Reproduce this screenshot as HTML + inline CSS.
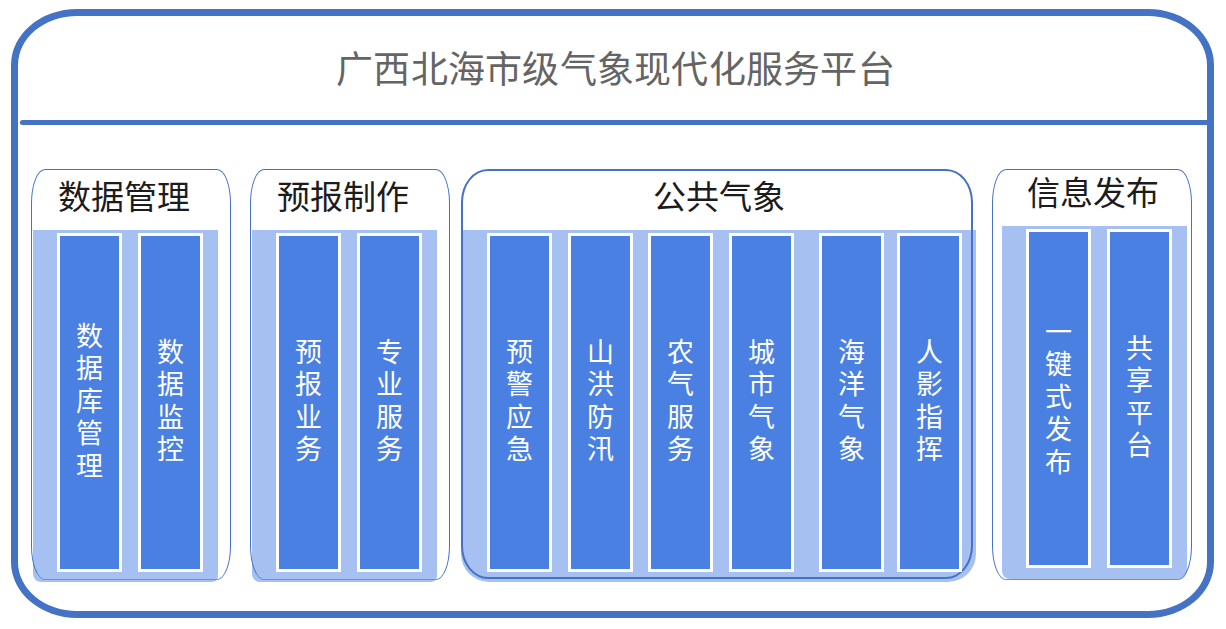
<!DOCTYPE html>
<html lang="zh-CN">
<head>
<meta charset="utf-8">
<style>
html,body{margin:0;padding:0;background:#fff;width:1226px;height:629px;overflow:hidden;position:relative;}
body{font-family:"Liberation Serif",serif;}
.a{position:absolute;box-sizing:border-box;}
#frame{left:11px;top:8.5px;width:1203px;height:609.3px;border:7px solid #4472C4;border-radius:66px/56px;}
#hline{left:20px;top:119.5px;width:1190px;height:5.5px;background:#4472C4;border-radius:3px 0 0 3px;}
#title{left:336px;top:49px;font-family:"Liberation Sans",sans-serif;font-size:37px;letter-spacing:0.25px;line-height:44px;font-weight:300;color:#646464;white-space:nowrap;}
.band{background:#A6C1F1;}
.outline{border:1.3px solid #4472C4;}
.col{background:#4A80E2;border:3px solid #fff;}
.ct{position:absolute;left:0;right:0;text-align:center;color:#fff;font-size:27px;line-height:32.5px;font-weight:300;}
.pt{position:absolute;font-size:33px;line-height:38px;color:#1c1c1c;white-space:nowrap;font-weight:300;}
</style>
</head>
<body>
<div id="frame" class="a"></div>
<div id="hline" class="a"></div>
<div id="title" class="a">广西北海市级气象现代化服务平台</div>

<!-- Panel 1 -->
<div class="a band" style="left:32.5px;top:230px;width:185.5px;height:352px;border-radius:0 0 6px 8px;"></div>
<div class="a outline" style="left:31px;top:169px;width:200px;height:410.5px;border-radius:14px/34px;border-bottom-color:#6A90DA;"></div>
<div class="pt" style="left:58px;top:179px;">数据管理</div>
<div class="a col" style="left:57px;top:233px;width:65px;height:339px;"><div class="ct" style="top:84.5px;">数<br>据<br>库<br>管<br>理</div></div>
<div class="a col" style="left:138px;top:233px;width:65px;height:339px;"><div class="ct" style="top:100.5px;">数<br>据<br>监<br>控</div></div>

<!-- Panel 2 -->
<div class="a band" style="left:251.7px;top:230px;width:185px;height:352px;border-radius:0 0 6px 8px;"></div>
<div class="a outline" style="left:250px;top:169px;width:200px;height:410.5px;border-radius:14px/34px;border-bottom-color:#6A90DA;"></div>
<div class="pt" style="left:277px;top:179px;">预报制作</div>
<div class="a col" style="left:276px;top:233px;width:65px;height:339px;"><div class="ct" style="top:100.5px;">预<br>报<br>业<br>务</div></div>
<div class="a col" style="left:357px;top:233px;width:65px;height:339px;"><div class="ct" style="top:100.5px;">专<br>业<br>服<br>务</div></div>

<!-- Panel 3 -->
<div class="a band" style="left:461px;top:230px;width:515px;height:352px;border-radius:0 0 28px 28px;"></div>
<div class="a outline" style="left:461px;top:169px;width:512px;height:410px;border-width:2.2px;border-radius:27px/33px;"></div>
<div class="pt" style="left:653px;top:179px;">公共气象</div>
<div class="a col" style="left:487px;top:233px;width:65px;height:339px;"><div class="ct" style="top:100.5px;">预<br>警<br>应<br>急</div></div>
<div class="a col" style="left:567.5px;top:233px;width:65px;height:339px;"><div class="ct" style="top:100.5px;">山<br>洪<br>防<br>汛</div></div>
<div class="a col" style="left:648px;top:233px;width:65px;height:339px;"><div class="ct" style="top:100.5px;">农<br>气<br>服<br>务</div></div>
<div class="a col" style="left:729px;top:233px;width:65px;height:339px;"><div class="ct" style="top:100.5px;">城<br>市<br>气<br>象</div></div>
<div class="a col" style="left:819px;top:233px;width:65px;height:339px;"><div class="ct" style="top:100.5px;">海<br>洋<br>气<br>象</div></div>
<div class="a col" style="left:897px;top:233px;width:65px;height:339px;"><div class="ct" style="top:100.5px;">人<br>影<br>指<br>挥</div></div>

<!-- Panel 4 -->
<div class="a band" style="left:1002px;top:226px;width:185px;height:352.6px;border-radius:0 0 8px 8px;"></div>
<div class="a outline" style="left:992px;top:169px;width:200px;height:410.5px;border-radius:14px/34px;border-bottom-color:#6A90DA;"></div>
<div class="pt" style="left:1027px;top:175px;">信息发布</div>
<div class="a col" style="left:1026px;top:229px;width:65px;height:339px;"><div class="ct" style="top:84.5px;">一<br>键<br>式<br>发<br>布</div></div>
<div class="a col" style="left:1107px;top:229px;width:65px;height:339px;"><div class="ct" style="top:100.5px;">共<br>享<br>平<br>台</div></div>
</body>
</html>
